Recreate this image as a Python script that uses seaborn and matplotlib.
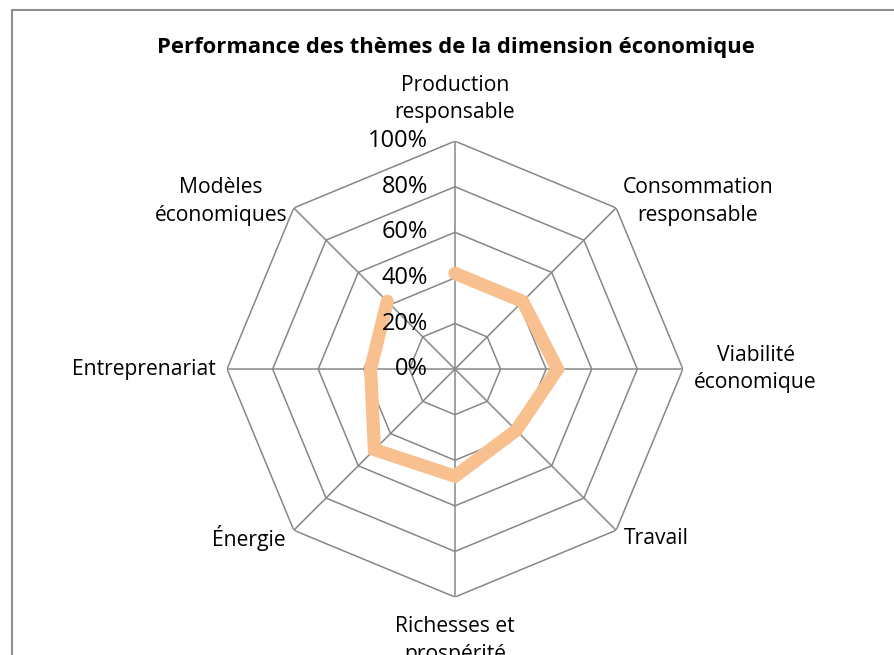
import numpy as np
import pandas as pd
import matplotlib
matplotlib.use("Agg")
import matplotlib.pyplot as plt
import seaborn as sns

# themes of the economic dimension, clockwise from the top
categories = ["Production\nresponsable", "Consommation\nresponsable", "Viabilité\néconomique",
              "Travail", "Richesses et\nprospérité", "Énergie", "Entreprenariat",
              "Modèles\néconomiques"]
scores = [0.42, 0.42, 0.45, 0.38, 0.47, 0.50, 0.37, 0.42]
levels = [0.0, 0.2, 0.4, 0.6, 0.8, 1.0]
level_labels = ["0%", "20%", "40%", "60%", "80%", "100%"]

sns.set_theme(style="white")
plt.rcParams["font.family"] = ["Open Sans", "DejaVu Sans"]

grid_col = "#878787"
line_col = "#F9C08F"

fig = plt.figure(figsize=(8.95, 6.55), dpi=100)
ax = fig.add_axes([0.2536, 0.0885, 0.5095, 0.696], projection="polar")
ax.set_theta_zero_location("N")
ax.set_theta_direction(-1)
ax.grid(False)
ax.spines["polar"].set_visible(False)
ax.patch.set_alpha(0)

n = len(categories)
angles = np.arange(n) * 2 * np.pi / n
ring = np.append(angles, angles[0])

# polygon grid
for lvl in levels[1:]:
    ax.plot(ring, [lvl] * (n + 1), color=grid_col, lw=1.1, zorder=1)
for a in angles:
    ax.plot([a, a], [0, 1], color=grid_col, lw=1.1, zorder=1)

df = pd.DataFrame({"theta": ring, "score": scores + [scores[0]]})
sns.lineplot(data=df, x="theta", y="score", sort=False, ax=ax, color=line_col,
             lw=9.5, solid_joinstyle="miter", zorder=3)

ax.set_ylim(0, 1)
ax.set_xticks([])
ax.set_yticks([])
ax.set_xlabel("")
ax.set_ylabel("")

# radial tick labels on the left of the top axis
for lvl, lab in zip(levels, level_labels):
    ax.annotate(lab, xy=(0, lvl), xytext=(-27, 0), textcoords="offset pixels",
                ha="right", va="center", fontsize=17, color="#000000")

# category labels
label_pos = [
    (1.08, "center", "bottom"),
    (1.04, "left", "center"),
    (1.05, "left", "center"),
    (1.05, "left", "center"),
    (1.085, "center", "top"),
    (1.05, "right", "center"),
    (1.05, "right", "center"),
    (1.04, "right", "center"),
]
for a, cat, (r, ha, va) in zip(angles, categories, label_pos):
    ax.text(a, r, cat, ha=ha, va=va, multialignment="center",
            fontsize=15.2, color="#000000", linespacing=1.4)

fig.text(456 / 895, 1 - 47 / 655, "Performance des thèmes de la dimension économique",
         ha="center", va="center", fontsize=15.8, fontweight="bold", color="#000000")

# chart area border (cropped at right and bottom)
fig.add_artist(plt.Line2D([12 / 895, 12 / 895], [0, 1 - 10 / 655],
                          transform=fig.transFigure, color="#8f8f8f", lw=1.5))
fig.add_artist(plt.Line2D([12 / 895, 1], [1 - 10 / 655, 1 - 10 / 655],
                          transform=fig.transFigure, color="#8f8f8f", lw=1.5))

fig.savefig("out.png", dpi=100)
